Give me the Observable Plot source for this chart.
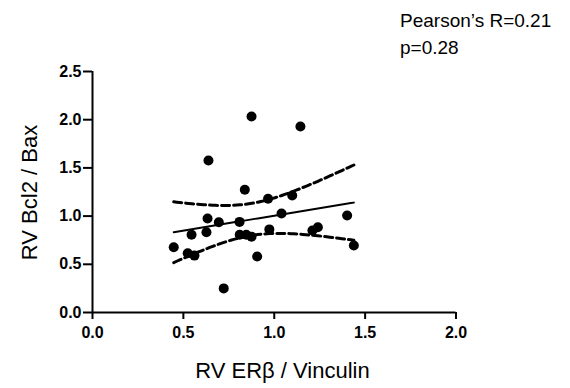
<!DOCTYPE html>
<html>
<head>
<meta charset="utf-8">
<script src="https://cdn.jsdelivr.net/npm/d3@7"></script>
<script src="https://cdn.jsdelivr.net/npm/@observablehq/plot@0.6"></script>
<style>
  html, body { margin: 0; padding: 0; background: #fff; }
  #chart { position: relative; width: 570px; height: 388px; }
</style>
</head>
<body>
<div id="chart"></div>
<script>
// Data
const erb = [0.447, 0.524, 0.561, 0.545, 0.627, 0.633, 0.638, 0.695, 0.722, 0.809, 0.810, 0.846, 0.875, 0.838, 0.875, 0.906, 0.966, 0.973, 1.040, 1.099, 1.144, 1.210, 1.240, 1.401, 1.438];
const bcl2bax = [0.677, 0.615, 0.590, 0.806, 0.833, 0.975, 1.577, 0.937, 0.250, 0.940, 0.806, 0.806, 0.787, 1.273, 2.033, 0.581, 1.180, 0.862, 1.027, 1.214, 1.930, 0.850, 0.885, 1.006, 0.695];
const xTicks = [0, 0.5, 1.0, 1.5, 2.0];
const yTicks = [0, 0.5, 1.0, 1.5, 2.0, 2.5];
const xLabel = "RV ERβ / Vinculin";
const yLabel = "RV Bcl2 / Bax";
const annotation = ["Pearson’s R=0.21", "p=0.28"];

const points = erb.map((x, i) => ({x, y: bcl2bax[i]}));

// Linear regression with 95% confidence band
const n = points.length;
const mx = d3.mean(erb), my = d3.mean(bcl2bax);
const sxx = d3.sum(erb, x => (x - mx) ** 2);
const sxy = d3.sum(points, p => (p.x - mx) * (p.y - my));
const slope = sxy / sxx, intercept = my - slope * mx;
const sse = d3.sum(points, p => (p.y - (intercept + slope * p.x)) ** 2);
const s = Math.sqrt(sse / (n - 2));
const tcrit = 2.069; // t(0.975, df=23)
const [x0, x1] = d3.extent(erb);
const fit = d3.range(0, 61).map(k => {
  const x = x0 + (x1 - x0) * k / 60;
  const yh = intercept + slope * x;
  const h = tcrit * s * Math.sqrt(1 / n + (x - mx) ** 2 / sxx);
  return {x, y: yh, lo: yh - h, hi: yh + h};
});

const font = "'Liberation Sans', Arial, Helvetica, sans-serif";

const chart = Plot.plot({
  width: 570,
  height: 388,
  marginLeft: 92,
  marginRight: 114.5,
  marginTop: 71,
  marginBottom: 76,
  style: {fontFamily: font, background: "#fff", color: "#000"},
  x: {domain: [0, 2], label: null},
  y: {domain: [0, 2.5], label: null},
  marks: [
    Plot.axisX({ticks: xTicks, tickFormat: d3.format(".1f"), tickSize: 7, tickPadding: 7, strokeWidth: 2, fontSize: 16, fontWeight: "bold", fill: "#000", label: null}),
    Plot.axisY({ticks: yTicks, tickFormat: d3.format(".1f"), tickSize: 9, tickPadding: 2, strokeWidth: 2, fontSize: 16, fontWeight: "bold", fill: "#000", label: null}),
    Plot.ruleY([0], {stroke: "#000", strokeWidth: 2}),
    Plot.ruleX([0], {stroke: "#000", strokeWidth: 2}),
    Plot.line(fit, {x: "x", y: "hi", stroke: "#000", strokeWidth: 3, strokeDasharray: "8,4"}),
    Plot.line(fit, {x: "x", y: "lo", stroke: "#000", strokeWidth: 3, strokeDasharray: "8,4"}),
    Plot.line(fit, {x: "x", y: "y", stroke: "#000", strokeWidth: 2}),
    Plot.dot(points, {x: "x", y: "y", r: 5, fill: "#000", stroke: null})
  ]
});

const svg = d3.select(chart);
svg.append("text")
  .attr("x", 282.5).attr("y", 378)
  .attr("text-anchor", "middle")
  .style("font-family", font).style("font-size", "22px").style("font-weight", "normal").attr("fill", "#000")
  .text(xLabel);
svg.append("text")
  .attr("transform", "translate(37,192.5) rotate(-90)")
  .attr("text-anchor", "middle")
  .style("font-family", font).style("font-size", "22px").style("font-weight", "normal").attr("fill", "#000")
  .text(yLabel);
annotation.forEach((t, i) => {
  svg.append("text")
    .attr("x", 400).attr("y", 27 + i * 26.5)
    .attr("text-anchor", "start")
    .style("font-family", font).style("font-size", "19px").style("font-weight", "normal").attr("fill", "#000")
    .text(t);
});

document.getElementById("chart").appendChild(chart);
</script>
</body>
</html>
